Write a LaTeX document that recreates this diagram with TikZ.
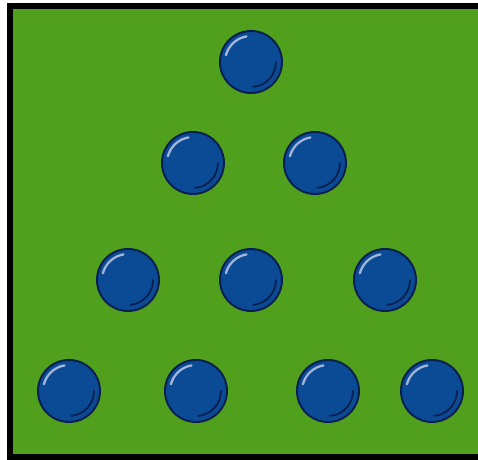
\documentclass[tikz,border=0pt]{standalone}
\usepackage{tikz}

\definecolor{feltgreen}{HTML}{50A01E}
\definecolor{ballblue}{HTML}{0B4A94}
\definecolor{balledge}{HTML}{0A1F4F}
\definecolor{shine}{HTML}{A3B6D8}

\tikzset{
  ballbody/.style={fill=ballblue, draw=balledge, line width=1.1pt},
  ballshine/.style={shine, line width=1.3pt, line cap=round},
  ballshade/.style={balledge, line width=1.0pt, line cap=round}
}

\begin{document}
\begin{tikzpicture}[x=0.02cm,y=0.02cm]
  \useasboundingbox (0,0) rectangle (478,460);
  \fill[white] (0,0) rectangle (478,460);

  % table with its frame
  \fill[black] (7,0) rectangle (478,457);
  \fill[feltgreen] (13,6) rectangle (478,451);

  % balls, rows from top to bottom
  \foreach \bx/\by in {251/398,
                       193/297, 315/297,
                       128/180, 251/180, 385/180,
                       69/69, 196/69, 328/69, 432/69} {
    \draw[ballbody] (\bx,\by) circle (31);
    \draw[ballshine] (\bx,\by) ++(165:26) arc (165:100:26);
    \draw[ballshade] (\bx,\by) ++(0:25) arc (0:-85:25);
  }
\end{tikzpicture}
\end{document}
